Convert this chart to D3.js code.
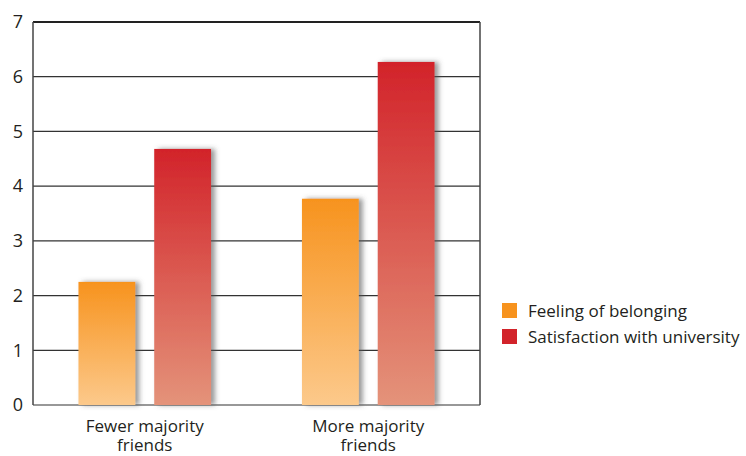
<!DOCTYPE html>
<html>
<head>
<meta charset="utf-8">
<script src="https://cdn.jsdelivr.net/npm/d3@7"></script>
<style>
  html, body { margin: 0; padding: 0; background: #fff; }
  svg { display: block; font-family: 'Open Sans', sans-serif; }
</style>
</head>
<body>
<div id="chart"></div>
<script>
  'use strict';

  // data
  var categories = [['Fewer majority', 'friends'], ['More majority', 'friends']];
  var seriesNames = ['Feeling of belonging', 'Satisfaction with university'];
  var belonging = [2.25, 3.77];
  var satisfaction = [4.68, 6.27];
  var yTicks = [0, 1, 2, 3, 4, 5, 6, 7];

  var width = 746, height = 456;
  var margin = {top: 22, right: 266, bottom: 51, left: 33};
  var plotW = width - margin.left - margin.right;
  var plotH = height - margin.top - margin.bottom;

  var svg = d3.select('#chart')
    .append('svg')
    .attr('width', width)
    .attr('height', height);

  var defs = svg.append('defs');

  var gradients = [
    {id: 'gradOrange', top: '#f7931e', bottom: '#fcc98b'},
    {id: 'gradRed', top: '#d2232a', bottom: '#e4937a'}
  ];
  gradients.forEach(function(g) {
    var lg = defs.append('linearGradient')
      .attr('id', g.id)
      .attr('x1', 0).attr('y1', 0).attr('x2', 0).attr('y2', 1);
    lg.append('stop').attr('offset', '0%').attr('stop-color', g.top);
    lg.append('stop').attr('offset', '100%').attr('stop-color', g.bottom);
  });

  var shadow = defs.append('filter')
    .attr('id', 'barShadow')
    .attr('x', '-20%').attr('y', '-10%')
    .attr('width', '150%').attr('height', '120%');
  shadow.append('feDropShadow')
    .attr('dx', 4).attr('dy', 0)
    .attr('stdDeviation', 2.5)
    .attr('flood-color', '#555')
    .attr('flood-opacity', 0.6);

  var g = svg.append('g')
    .attr('transform', 'translate(' + margin.left + ',' + margin.top + ')');

  var x0 = d3.scaleBand()
    .domain(d3.range(categories.length))
    .range([0, plotW])
    .padding(0);

  var x1 = d3.scaleBand()
    .domain(d3.range(seriesNames.length))
    .range([0, x0.bandwidth()])
    .paddingInner(0.25)
    .paddingOuter(0.6);

  var y = d3.scaleLinear()
    .domain([0, 7])
    .range([plotH, 0]);

  // gridlines
  g.selectAll('.grid')
    .data(yTicks)
    .enter().append('line')
    .attr('class', 'grid')
    .attr('x1', 0)
    .attr('x2', plotW)
    .attr('y1', function(d) { return y(d); })
    .attr('y2', function(d) { return y(d); })
    .attr('stroke', function(d) { return d === 7 ? '#222' : '#333'; })
    .attr('stroke-width', function(d) { return d === 7 ? 2 : 1.2; });

  // side borders
  g.append('line')
    .attr('x1', 0).attr('x2', 0)
    .attr('y1', y(7)).attr('y2', y(0))
    .attr('stroke', '#444').attr('stroke-width', 1.5);
  g.append('line')
    .attr('x1', plotW).attr('x2', plotW)
    .attr('y1', y(7)).attr('y2', y(0))
    .attr('stroke', '#444').attr('stroke-width', 1.5);

  // y axis labels
  var yAxis = d3.axisLeft(y)
    .tickValues(yTicks)
    .tickSize(0)
    .tickPadding(10)
    .tickFormat(d3.format('d'));
  var ya = g.append('g').call(yAxis);
  ya.select('.domain').remove();
  ya.selectAll('text')
    .style('font-family', "'Open Sans', sans-serif")
    .style('font-size', '18px')
    .attr('fill', '#231f20');

  var rows = categories.map(function(c, i) {
    return [belonging[i], satisfaction[i]];
  });
  var fills = ['url(#gradOrange)', 'url(#gradRed)'];

  var groups = g.selectAll('.group')
    .data(rows)
    .enter().append('g')
    .attr('class', 'group')
    .attr('transform', function(d, i) { return 'translate(' + x0(i) + ',0)'; });

  groups.selectAll('rect')
    .data(function(d) { return d; })
    .enter().append('rect')
    .attr('x', function(d, j) { return x1(j); })
    .attr('y', function(d) { return y(d); })
    .attr('width', x1.bandwidth())
    .attr('height', function(d) { return y(0) - y(d); })
    .attr('fill', function(d, j) { return fills[j]; })
    .attr('filter', 'url(#barShadow)');

  // category labels
  var xa = g.append('g')
    .attr('transform', 'translate(0,' + plotH + ')');
  categories.forEach(function(lines, i) {
    var t = xa.append('text')
      .attr('x', x0(i) + x0.bandwidth() / 2)
      .attr('y', 27)
      .attr('text-anchor', 'middle')
      .style('font-size', '17px')
      .attr('fill', '#231f20');
    lines.forEach(function(l, k) {
      t.append('tspan')
        .attr('x', x0(i) + x0.bandwidth() / 2)
        .attr('dy', k === 0 ? 0 : 19)
        .text(l);
    });
  });

  // legend
  var legendColors = ['#f7931e', '#d2232a'];
  var legend = svg.append('g')
    .attr('transform', 'translate(502,303)');
  seriesNames.forEach(function(name, i) {
    var row = legend.append('g')
      .attr('transform', 'translate(0,' + (i * 26) + ')');
    row.append('rect')
      .attr('width', 15)
      .attr('height', 15)
      .attr('fill', legendColors[i]);
    row.append('text')
      .attr('x', 26)
      .attr('y', 14)
      .style('font-size', '17px')
      .attr('fill', '#231f20')
      .text(name);
  });
</script>
</body>
</html>
